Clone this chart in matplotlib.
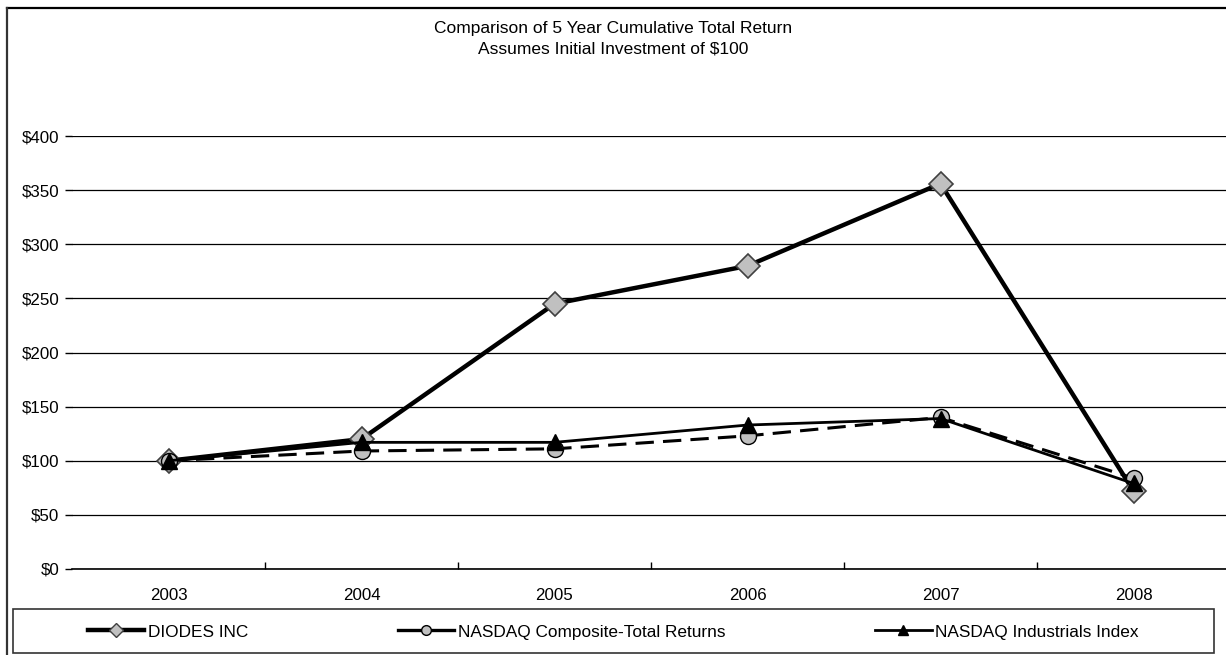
import matplotlib
matplotlib.use('Agg')
import matplotlib.pyplot as plt
from matplotlib.patches import Rectangle
from matplotlib.lines import Line2D
from matplotlib.ticker import FixedLocator

plt.rcParams['font.family'] = ['Liberation Sans', 'DejaVu Sans']

## data
years = ['2003', '2004', '2005', '2006', '2007', '2008']
diodes = [100, 120, 245, 280, 356, 72]
nasdaq_comp = [100, 109, 111, 123, 140, 84]
nasdaq_ind = [100, 117, 117, 133, 139, 79]
yticks = [0, 50, 100, 150, 200, 250, 300, 350, 400]

W, H = 1226, 655
fig = plt.figure(figsize=(W / 100, H / 100), dpi=100)

# plot area in pixel units -> figure fractions
x0, y_top, y_bot = 72, 136, 569
step = 193
ax = fig.add_axes([x0 / W, (H - y_bot) / H, 6 * step / W, (y_bot - y_top) / H])

x = range(len(years))
ax.plot(x, diodes, color='black', lw=3.2, marker='D', ms=12,
        mfc='#c0c0c0', mec='#404040', mew=1.2, zorder=3)
ax.plot(x, nasdaq_comp, color='black', lw=2.2, ls=(0, (6, 3)), marker='o', ms=11.5,
        mfc='#c0c0c0', mec='black', mew=1.0, zorder=4)
ax.plot(x, nasdaq_ind, color='black', lw=2.0, marker='^', ms=11,
        mfc='black', mec='black', zorder=5)

ax.set_xlim(-0.5, 5.5)
ax.set_ylim(0, 400)
ax.set_yticks(yticks)
ax.set_yticklabels([f'${v}' for v in yticks], fontsize=12.2)
ax.set_xticks(list(x))
ax.set_xticklabels(years, fontsize=12.2)
ax.tick_params(axis='x', which='major', length=0, pad=14)
ax.tick_params(axis='y', length=5, width=1, pad=4)
ax.xaxis.set_minor_locator(FixedLocator([i + 0.5 for i in range(5)]))
ax.tick_params(axis='x', which='minor', direction='in', length=5, width=1)
ax.grid(axis='y', color='black', lw=0.9)
ax.set_axisbelow(True)
for s in ['left', 'right', 'top']:
    ax.spines[s].set_visible(False)
ax.spines['bottom'].set_linewidth(1.2)

fig.text(0.5, 1 - 28 / H, 'Comparison of 5 Year Cumulative Total Return',
         ha='center', va='center', fontsize=12.5)
fig.text(0.5, 1 - 49 / H, 'Assumes Initial Investment of $100',
         ha='center', va='center', fontsize=12.5)

# legend box drawn separately, legend itself without a frame
fig.patches.append(Rectangle((13 / W, (H - 653) / H), (1214 - 13) / W, 44 / H,
                             transform=fig.transFigure, fill=False,
                             edgecolor='#333333', lw=1.2))
# legend keys are solid in the reference, so use proxies
handles = [
    Line2D([], [], color='black', lw=3.2, marker='D', ms=7, mfc='#c0c0c0', mec='#404040'),
    Line2D([], [], color='black', lw=2.4, marker='o', ms=7, mfc='#c0c0c0', mec='black'),
    Line2D([], [], color='black', lw=2.0, marker='^', ms=7, mfc='black', mec='black'),
]
labels = ['DIODES INC', 'NASDAQ Composite-Total Returns', 'NASDAQ Industrials Index']
fig.legend(handles, labels, loc='center', bbox_to_anchor=(613 / W, 1 - 632 / H),
           ncol=3, frameon=False, fontsize=12.4, handlelength=3.3,
           handletextpad=0.18, columnspacing=8.7,
           borderpad=0, borderaxespad=0)

# outer border: only the top and left edges fall inside the image
fig.add_artist(Line2D([7 / W, 1], [1 - 8 / H, 1 - 8 / H], transform=fig.transFigure,
                      color='black', lw=1.6))
fig.add_artist(Line2D([7 / W, 7 / W], [0, 1 - 8 / H], transform=fig.transFigure,
                      color='#333333', lw=1.6))

fig.savefig('out.png', dpi=100)
